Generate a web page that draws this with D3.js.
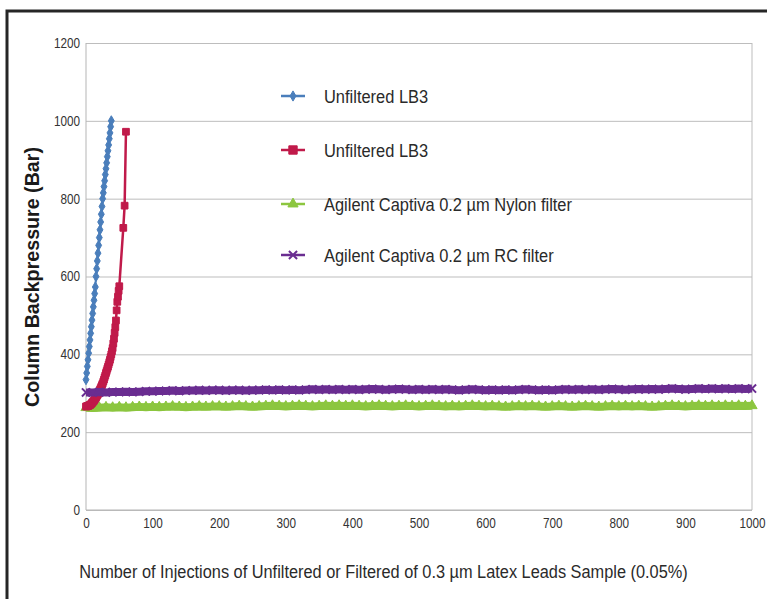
<!DOCTYPE html>
<html><head><meta charset="utf-8">
<script src="https://cdn.jsdelivr.net/npm/d3@7"></script>
<style>
html,body{margin:0;padding:0;background:#fff;}
svg{display:block;}
</style></head>
<body>
<svg id="chart" width="767" height="599"></svg>
<script>
// ---- data ----
const xTicks = [0,100,200,300,400,500,600,700,800,900,1000];
const yTicks = [0,200,400,600,800,1000,1200];
const seriesNames = ["Unfiltered LB3","Unfiltered LB3","Agilent Captiva 0.2 µm Nylon filter","Agilent Captiva 0.2 µm RC filter"];
const seriesColors = ["#4A7EBB","#C01A4A","#8CC63F","#6A2D91"];

const blueX = [0,1,2,3,4,5,6,7,8,9,10,11,12,13,14,15,16,17,18,19,20,21,22,23,24,25,26,27,28,29,30,31,32,33,34,35,36,37,38];
const blueY = [335,352,369,386,403,420,437,454,471,488,505,522,539,556,573,600,620,640,660,680,700,720,740,760,780,800,815,831,846,862,877,892,908,923,938,954,969,985,1000];

const redX = [0,1,2,3,4,5,6,7,8,9,10,11,12,13,14,15,16,17,18,19,20,21,22,23,24,25,26,27,28,29,30,31,32,33,34,35,36,37,38,39,40,41,42,43,44,45,46,47,48,49,50,56,58,60];
const redY = [266,266,267,267,268,269,270,271,273,275,277,279,281,284,286,289,292,295,298,301,305,309,313,317,321,325,330,335,341,346,352,357,363,368,374,380,386,393,400,408,416,428,440,455,470,487,513,535,548,563,575,725,782,972];

const flatStep = 10; // injections between listed readings
const nylonY = [263,262,263,264,263,264,263,264,265,264,
265,264,265,266,265,264,265,266,265,266,
266,265,266,267,266,265,266,267,268,267,
266,267,268,267,266,267,268,267,268,267,
268,267,266,267,268,267,266,267,268,267,
266,267,268,267,266,267,266,267,268,267,
266,267,266,265,266,267,266,267,266,265,
266,267,266,265,266,267,266,265,266,267,
266,267,266,267,266,265,266,267,268,267,
266,267,268,267,268,267,268,267,268,267,
268];
const rcY = [302,302,303,302,303,303,304,303,304,305,
305,306,306,307,306,307,307,308,307,308,
308,307,308,308,307,308,308,309,308,309,
308,309,308,309,310,309,310,309,310,309,
310,309,310,311,310,309,310,311,310,309,
310,309,310,309,310,309,308,309,310,309,
308,309,308,309,308,309,310,309,308,309,
308,309,310,309,310,309,310,309,310,311,
310,309,310,311,310,311,310,311,312,311,
310,311,312,311,312,311,312,311,312,311,
312];

const xTitle = "Number of Injections of Unfiltered or Filtered of 0.3 µm Latex Leads Sample (0.05%)";
const yTitle = "Column Backpressure (Bar)";

// ---- layout ----
const svg = d3.select("#chart");
const L = 86, R = 752, T = 43, B = 510;
const x = d3.scaleLinear().domain([0,1000]).range([L,R]);
const y = d3.scaleLinear().domain([0,1200]).range([B,T]);
const FONT = "'Liberation Sans', Arial, sans-serif";

// squeeze text horizontally to imitate a condensed face
function squeeze(sel, s) {
  sel.each(function(){
    const t = d3.select(this);
    const x0 = +(t.attr("x")||0);
    t.attr("x", x0/s).attr("transform", `scale(${s},1)`);
  });
}
function squeezeTo(sel, target) {
  const w = sel.node().getComputedTextLength();
  squeeze(sel, target / w);
}

// outer frame
svg.append("path").attr("d","M7,599 L7,11 L767,11").attr("fill","none").attr("stroke","#262626").attr("stroke-width",3);

// grid + y axis
const gy = svg.append("g").attr("transform",`translate(${L},0)`)
  .call(d3.axisLeft(y).tickValues(yTicks).tickSize(-(R-L)).tickPadding(6).tickFormat(d3.format("d")));
gy.select(".domain").remove();
gy.selectAll(".tick line").attr("stroke","#bdbdbd").attr("stroke-width",1);
const yLab = gy.selectAll(".tick text").attr("font-family",FONT).attr("font-size",14).attr("fill","#333");
squeeze(yLab, 0.84);

// x axis labels
const gx = svg.append("g").attr("transform",`translate(0,${B})`)
  .call(d3.axisBottom(x).tickValues(xTicks).tickSize(0).tickPadding(8).tickFormat(d3.format("d")));
gx.select(".domain").remove();
const xLab = gx.selectAll(".tick text").attr("font-family",FONT).attr("font-size",14).attr("fill","#333");
squeeze(xLab, 0.84);

// plot border lines
svg.append("line").attr("x1",L).attr("x2",L).attr("y1",T).attr("y2",B).attr("stroke","#b5b5b5");
svg.append("line").attr("x1",R).attr("x2",R).attr("y1",T).attr("y2",B).attr("stroke","#bdbdbd");
svg.append("line").attr("x1",L).attr("x2",R).attr("y1",B).attr("y2",B).attr("stroke","#b5b5b5");

// symbols
const symX = d3.symbolX || d3.symbolCross;
const symbols = [d3.symbolDiamond, d3.symbolSquare, d3.symbolTriangle, symX];
const symSizes = [30, 45, 45, 45];

function drawSeries(pts, i, lineW) {
  const g = svg.append("g");
  const line = d3.line().x(d=>x(d[0])).y(d=>y(d[1]));
  g.append("path").datum(pts).attr("d",line).attr("fill","none")
    .attr("stroke",seriesColors[i]).attr("stroke-width",lineW).attr("stroke-linejoin","round");
  const sym = d3.symbol().type(symbols[i]).size(symSizes[i]);
  g.selectAll("path.m").data(pts).enter().append("path").attr("class","m")
    .attr("d",sym).attr("transform",d=>`translate(${x(d[0])},${y(d[1])})`)
    .attr("fill", i===3 ? "none" : seriesColors[i])
    .attr("stroke",seriesColors[i]).attr("stroke-width", i===3 ? 2 : 1);
}

const bluePts = blueX.map((v,k)=>[v, blueY[k]]);
const redPts = redX.map((v,k)=>[v, redY[k]]);
const nylonPts = nylonY.map((v,k)=>[k*flatStep, v]);
const rcPts = rcY.map((v,k)=>[k*flatStep, v]);

drawSeries(bluePts, 0, 2);
drawSeries(nylonPts, 2, 8);
drawSeries(redPts, 1, 2.5);
drawSeries(rcPts, 3, 8);

// legend
const legY = [96, 150, 204, 255];
const lg = svg.append("g");
const legTexts = [];
seriesNames.forEach((name,i)=>{
  const yy = legY[i];
  lg.append("line").attr("x1",281).attr("x2",305).attr("y1",yy).attr("y2",yy)
    .attr("stroke",seriesColors[i]).attr("stroke-width",2.5);
  lg.append("path").attr("d",d3.symbol().type(symbols[i]).size(i===1?70:symSizes[i])())
    .attr("transform",`translate(293,${yy})`)
    .attr("fill", i===3 ? "none" : seriesColors[i]).attr("stroke",seriesColors[i]).attr("stroke-width", i===3?2:1);
  legTexts.push(lg.append("text").attr("x",324).attr("y",yy).attr("dy","0.36em")
    .attr("font-family",FONT).attr("font-size",18.5).attr("fill","#2a2a2a").text(name));
});
// scale all legend texts with the ratio measured on the longest label
const legW = legTexts[2].node().getComputedTextLength();
legTexts.forEach(t => squeeze(t, 248 / legW));

// titles
const xt = svg.append("text").attr("x",(79+688)/2).attr("y",578).attr("text-anchor","middle")
  .attr("font-family",FONT).attr("font-size",18.5).attr("fill","#2a2a2a").text(xTitle);
squeezeTo(xt, 609);
const yt = svg.append("text").attr("transform","translate(39,277) rotate(-90)").attr("text-anchor","middle")
  .attr("font-family",FONT).attr("font-weight","bold").attr("font-size",17)
  .attr("fill","#1a1a1a").text(yTitle);
const yw = yt.node().getComputedTextLength();
yt.attr("font-size", (17*260/yw).toFixed(2));
</script>
</body></html>
